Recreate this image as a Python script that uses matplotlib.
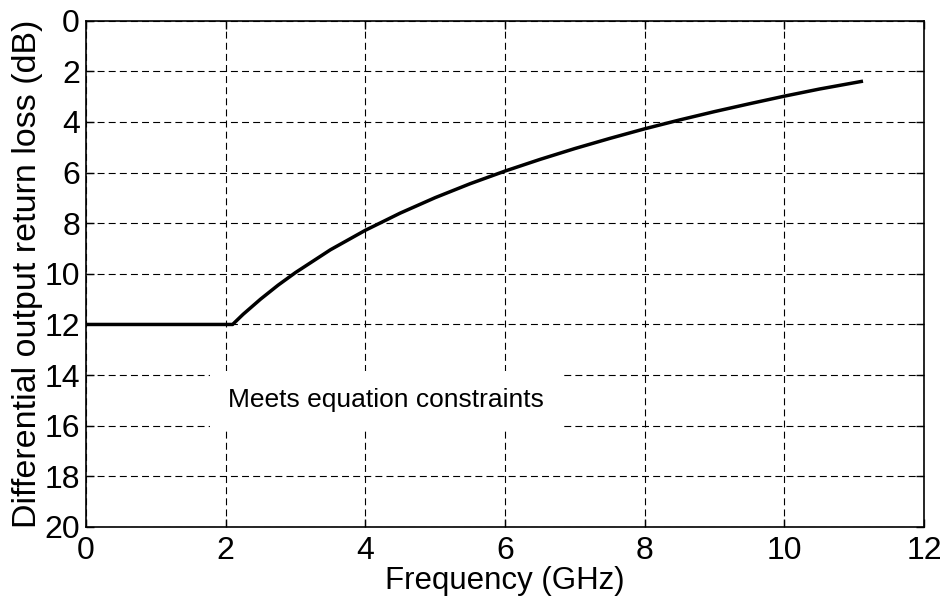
import matplotlib
matplotlib.use("Agg")
import matplotlib.pyplot as plt

plt.rcParams['font.family'] = ['Liberation Sans', 'DejaVu Sans']
plt.rcParams['lines.scale_dashes'] = False

# Courbe (fréquence en GHz, perte de retour en dB)
freq_ghz = [0, 2.1, 2.25, 2.5, 2.75, 3.0, 3.5, 4.0, 4.5, 5.0, 5.5, 6.0, 6.5, 7.0,
            7.5, 8.0, 8.5, 9.0, 9.5, 10.0, 10.5, 11.1]
return_loss_db = [12, 12, 11.6, 11.0, 10.45, 9.95, 9.05, 8.28, 7.6, 6.99, 6.44, 5.94,
                  5.48, 5.05, 4.65, 4.27, 3.92, 3.59, 3.28, 2.98, 2.70, 2.40]

x_ticks = [0, 2, 4, 6, 8, 10, 12]
y_ticks = [0, 2, 4, 6, 8, 10, 12, 14, 16, 18, 20]
note = "Meets equation constraints"

fig = plt.figure(figsize=(9.44, 6), dpi=100)
ax = fig.add_axes([0.091, 0.1217, 0.888, 0.8438])

ax.plot(freq_ghz, return_loss_db, color='black', linewidth=2.5, zorder=3)

ax.set_xlim(0, 12)
ax.set_ylim(20, 0)
ax.set_xticks(x_ticks)
ax.set_yticks(y_ticks)
ax.tick_params(direction='in', length=6, width=1, labelsize=23,
               top=True, right=True)
ax.tick_params(axis='x', pad=6.5)
ax.tick_params(axis='y', pad=4.3)
ax.grid(True, color='black', linestyle=(0, (5, 3)), linewidth=0.8)
for s in ax.spines.values():
    s.set_linewidth(1.2)

ax.set_xlabel("Frequency (GHz)", fontsize=22.5)
ax.set_ylabel("Differential output return loss (dB)", fontsize=24.5)
ax.xaxis.set_label_coords(0.5, -0.077)
ax.yaxis.set_label_coords(-0.0507, 0.5)

ax.text(4.29, 15.0, note, fontsize=19, ha='center', va='center', zorder=4,
        bbox=dict(facecolor='white', edgecolor='none', pad=12.5))

fig.savefig("out.png", dpi=100)
